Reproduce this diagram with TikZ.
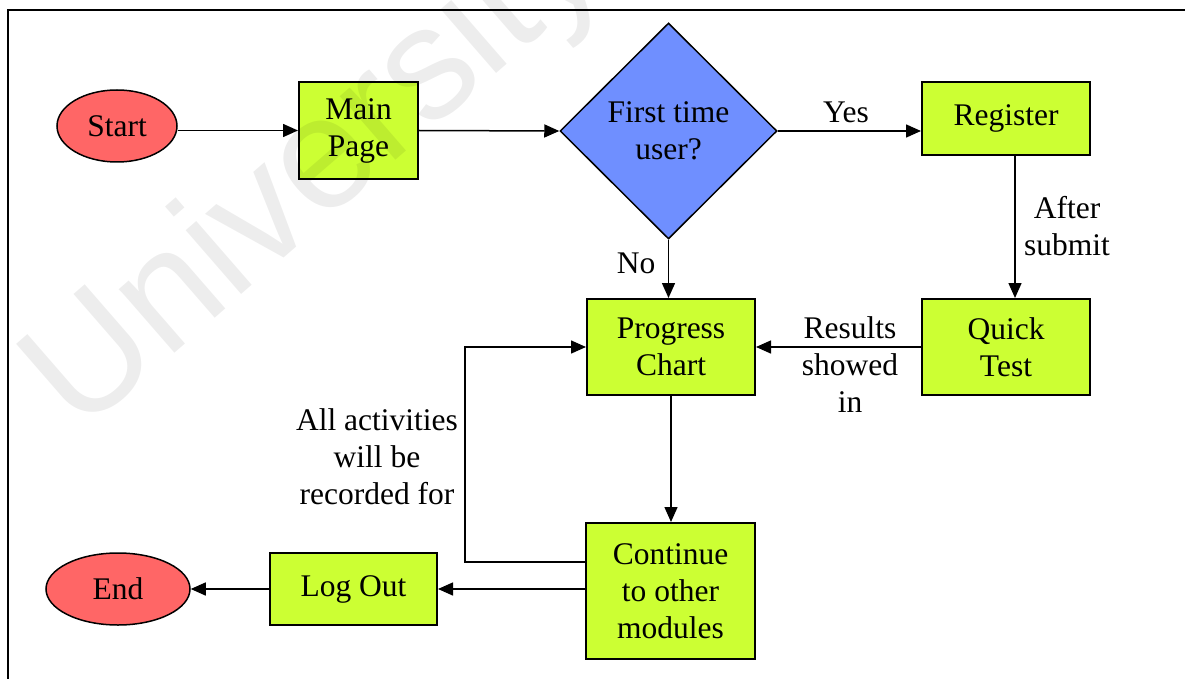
\documentclass[tikz,border=0pt]{standalone}
\usepackage{fontspec}
\setmainfont{Liberation Serif}
\newfontfamily\wmfont{Liberation Sans}
\usetikzlibrary{shapes.geometric,arrows.meta,calc}
\definecolor{boxgreen}{RGB}{204,255,51}
\definecolor{termred}{RGB}{255,102,102}
\definecolor{decblue}{RGB}{111,143,255}

\begin{document}
\begin{tikzpicture}[x=1pt,y=-1pt,
  every node/.style={font=\fontsize{31.5}{37}\selectfont},
  box/.style={draw=black,line width=2pt,fill=boxgreen,inner sep=0pt,align=center},
  term/.style={ellipse,draw=black,line width=1.5pt,fill=termred,inner sep=0pt},
  decide/.style={diamond,draw=black,line width=1.5pt,fill=decblue,inner sep=0pt,align=center},
  arr/.style={line width=1.5pt,-{Triangle[length=15pt,width=13pt]}},
  lbl/.style={align=center,inner sep=0pt},
  frame/.style={line width=1.8pt}]

\useasboundingbox (0,0) rectangle (1185,679);

% outer frame (top and left edges)
\draw[frame] (8,679) -- (8,10) -- (1185,10);

% flow nodes
\node[term, minimum width=120pt, minimum height=72pt] (start) at (117,126) {Start};
\node[box, minimum width=119pt, minimum height=97pt] (main) at (358.5,130.5) {Main\\Page};
\node[decide, minimum width=217pt, minimum height=216pt] (dia) at (668.5,131) {First time\\user?};
\node[box, minimum width=168pt, minimum height=73pt] (reg) at (1006,118.5) {Register};
\node[box, minimum width=168pt, minimum height=96pt] (quick) at (1006,347) {Quick\\Test};
\node[box, minimum width=168pt, minimum height=96pt] (prog) at (671,347) {Progress\\Chart};
\node[box, minimum width=169pt, minimum height=136pt] (cont) at (670.5,591) {Continue\\to other\\modules};
\node[box, minimum width=167pt, minimum height=72pt] (logout) at (353.5,589) {Log Out};
\node[term, minimum width=144pt, minimum height=72pt] (end) at (118,589) {End};

% connectors
\draw[arr] (start.east |- main.west) -- (main.west);
\draw[arr] (main.east) -- (dia.west);
\draw[arr] (dia.east) -- (dia.east -| reg.west);
\draw[arr] (dia.south) -- (dia.south |- prog.north);
\draw[arr] ([xshift=9pt]reg.south) -- ([xshift=9pt]quick.north);
\draw[arr] (quick.west) -- (prog.east);
\draw[arr] (prog.south) -- (prog.south |- cont.north);
\draw[arr] ([yshift=29pt]cont.west) -- ++(-120,0) |- (prog.west);
\draw[arr] (cont.west |- logout.east) -- (logout.east);
\draw[arr] (logout.west) -- (end.east);

% connector labels
\node[lbl] (yes) at (846,112) {Yes};
\node[lbl] (no) at (636,263) {No};
\node[lbl] (after) at (1067,226) {After\\submit};
\node[lbl] (results) at (850,365) {Results\\showed\\in};
\node[lbl] (allact) at (377,457) {All activities\\will be\\recorded for};

% faint overlay lettering
\node[anchor=base west, rotate=41, inner sep=0pt, text=black, text opacity=0.07,
      font=\wmfont\fontsize{160}{160}\selectfont] (wm) at (79,436) {University};
\end{tikzpicture}
\end{document}
